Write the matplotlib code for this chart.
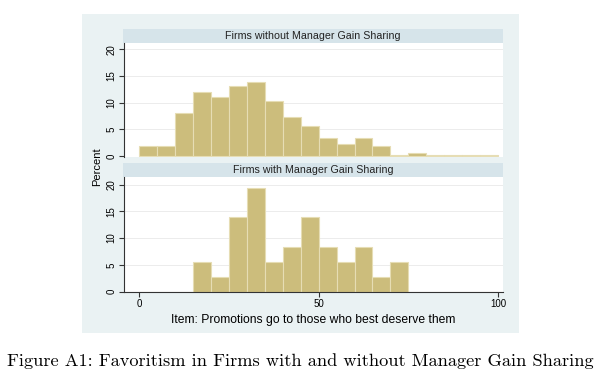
import numpy as np
import matplotlib
matplotlib.use("Agg")
import matplotlib.pyplot as plt
from matplotlib.patches import Rectangle

# ---- data ----
bin_edges = list(range(0, 105, 5))
pct_without = [1.9, 1.9, 8.0, 12.0, 11.1, 13.1, 13.9, 10.3, 7.3, 5.7,
               3.3, 2.2, 3.3, 1.8, 0.25, 0.6, 0.25, 0.25, 0.25, 0.25]
pct_with = [0, 0, 0, 5.56, 2.78, 13.89, 19.44, 5.56, 8.33, 13.89,
            8.33, 5.56, 8.33, 2.78, 5.56, 0, 0, 0, 0, 0]
panel_titles = ["Firms without Manager Gain Sharing", "Firms with Manager Gain Sharing"]
y_ticks = [0, 5, 10, 15, 20]
x_ticks = [0, 50, 100]
x_label = "Item: Promotions go to those who best deserve them"
y_label = "Percent"
caption = "Figure A1: Favoritism in Firms with and without Manager Gain Sharing"

plt.rcParams['font.family'] = ['Liberation Sans', 'DejaVu Sans']

W, H = 600, 380
fig = plt.figure(figsize=(6, 3.8), dpi=100)
fig.patch.set_facecolor('white')

def fx(px): return px / W
def fy(py): return 1 - py / H

# outer graph region
fig.patches.append(Rectangle((fx(82), fy(333)), fx(519) - fx(82), fy(14) - fy(333),
                             transform=fig.transFigure, facecolor='#eaf2f3',
                             edgecolor='none', zorder=-2))

bar_color = '#ccbd7c'
edge_color = '#e6ddb4'
strip_color = '#d6e4ea'
left_px, right_px = 124, 503

panels = [
    dict(top=42.9, bottom=157.3, ylim=(-0.25, 21.2), vals=pct_without, strip=(29, 43)),
    dict(top=177.0, bottom=291.7, ylim=(0, 21.4), vals=pct_with, strip=(163, 177)),
]

lefts = bin_edges[:-1]
axes = []
for i, p in enumerate(panels):
    ax = fig.add_axes([fx(left_px), fy(p['bottom']), fx(right_px) - fx(left_px),
                       fy(p['top']) - fy(p['bottom'])])
    ax.set_zorder(3)
    ax.set_facecolor('white')
    ax.set_xlim(-4.3, 101.4)
    ax.set_ylim(*p['ylim'])
    for yv in y_ticks[1:]:
        ax.axhline(yv, color='#ececec', lw=0.7, zorder=0)
    ax.bar(lefts, p['vals'], width=5, align='edge', color=bar_color,
           edgecolor=edge_color, linewidth=0.8, zorder=2)
    ax.set_yticks(y_ticks)
    ax.set_yticklabels([str(t) for t in y_ticks], rotation=90, va='center', fontsize=7)
    ax.tick_params(axis='y', length=3.5, width=0.8, color='#333333', pad=2)
    for s in ['top', 'right']:
        ax.spines[s].set_visible(False)
    ax.spines['left'].set_color('#333333')
    ax.spines['left'].set_linewidth(0.8)
    if i == 0:
        ax.spines['bottom'].set_visible(False)
        ax.set_xticks([])
    else:
        ax.spines['bottom'].set_color('#333333')
        ax.spines['bottom'].set_linewidth(0.8)
        ax.set_xticks(x_ticks)
        ax.set_xticklabels([str(t) for t in x_ticks], fontsize=7)
        ax.tick_params(axis='x', length=3.5, width=0.8, color='#333333', pad=2)
        ax.set_xlabel(x_label, fontsize=8.7, labelpad=3)
    # strip
    s0, s1 = p['strip']
    fig.patches.append(Rectangle((fx(123), fy(s1)), fx(503) - fx(123), fy(s0) - fy(s1),
                                 transform=fig.transFigure, facecolor=strip_color,
                                 edgecolor='none', zorder=-1))
    fig.text(fx((123 + 503) / 2), fy((s0 + s1) / 2), panel_titles[i], ha='center',
             va='center', fontsize=7.7, color='#222222')
    axes.append(ax)

fig.text(fx(97), fy(167), y_label, rotation=90, ha='center', va='center', fontsize=8.0)

fig.text(0.5, fy(361), caption, ha='center', va='center', fontsize=13.2,
         family=['cmr10', 'DejaVu Serif'])

fig.savefig('out.png', dpi=100)
